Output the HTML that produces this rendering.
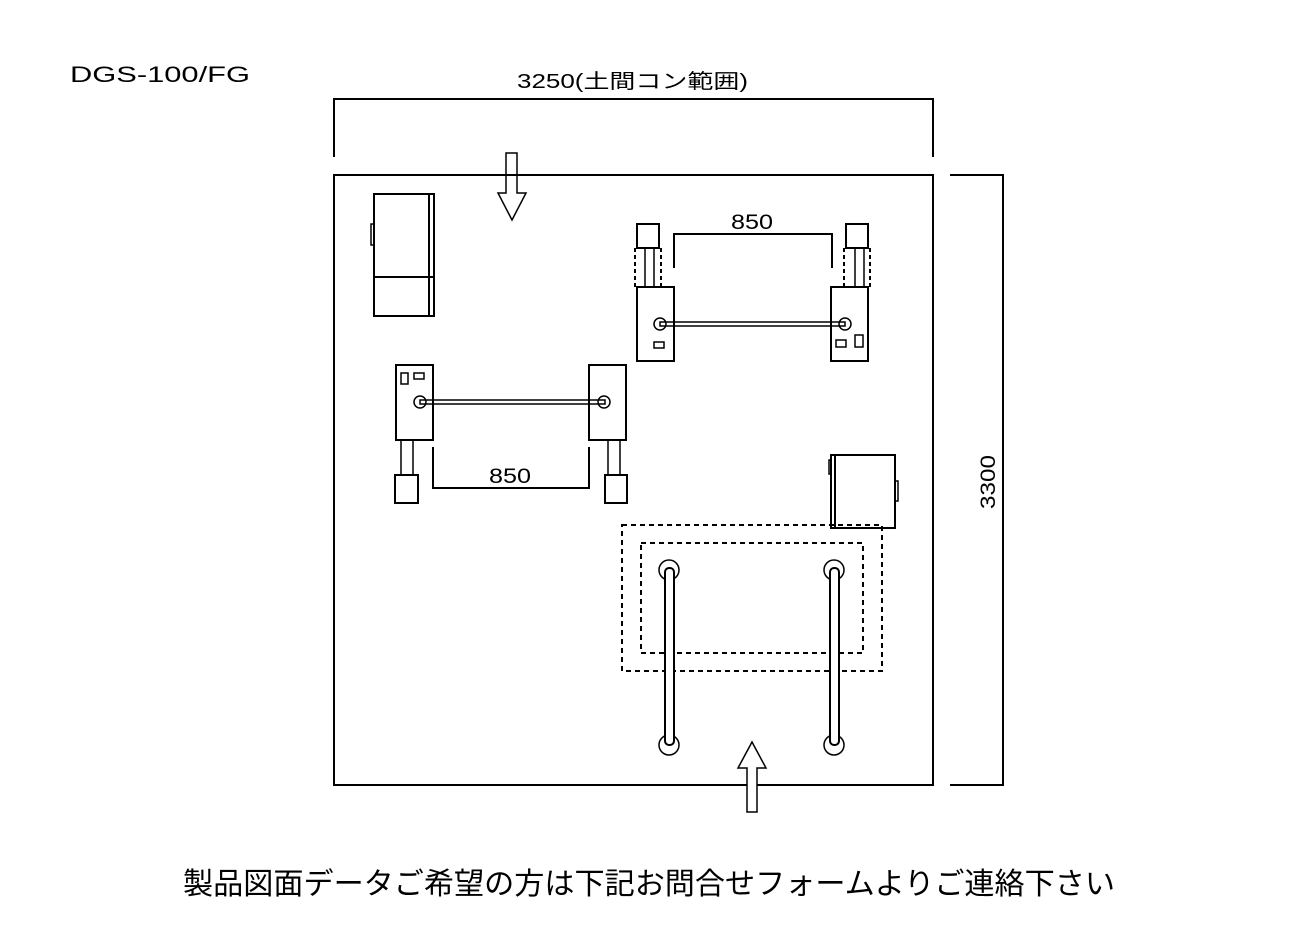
<!DOCTYPE html>
<html><head><meta charset="utf-8"><style>
html,body{margin:0;padding:0;background:#fff;width:1296px;height:936px;overflow:hidden}
svg{display:block}
text{font-family:"Liberation Sans","Noto Sans CJK JP",sans-serif;fill:#000}
</style></head><body>
<svg width="1296" height="936" viewBox="0 0 1296 936" xmlns="http://www.w3.org/2000/svg">
<g fill="none" stroke="#000" stroke-width="2">
<text x="70" y="82" font-size="22" stroke="none" textLength="180" lengthAdjust="spacingAndGlyphs">DGS-100/FG</text>
<text x="517" y="88" font-size="20" stroke="none" textLength="231" lengthAdjust="spacingAndGlyphs">3250(土間コン範囲)</text>
<polyline points="334,157 334,99 933,99 933,157"/>
<rect x="334" y="175" width="599" height="610"/>
<polyline points="950,175 1003,175 1003,785 950,785"/>
<text x="0" y="0" font-size="21" stroke="none" textLength="54" lengthAdjust="spacingAndGlyphs" transform="translate(995,509) rotate(-90)">3300</text>
<polygon points="506,153 517,153 517,193 526,193 512,220 498,193 506,193" stroke-width="1.5"/>
<rect x="374" y="194" width="60" height="122"/>
<line x1="374" y1="277" x2="434" y2="277"/>
<line x1="429" y1="194" x2="429" y2="316"/>
<rect x="371" y="224" width="3" height="21" stroke-width="1.5"/>
<rect x="396" y="365" width="37" height="75"/>
<rect x="589" y="365" width="37" height="75"/>
<rect x="401" y="373" width="7" height="11" stroke-width="1.5"/>
<rect x="414" y="373" width="10" height="6" stroke-width="1.5"/>
<rect x="420" y="400" width="185" height="4" stroke-width="1.5"/>
<circle cx="420" cy="402" r="6" stroke-width="1.5"/><circle cx="604" cy="402" r="6" stroke-width="1.5"/>
<rect x="401" y="440" width="12" height="35" stroke-width="1.5"/>
<rect x="395" y="475" width="23" height="28"/>
<rect x="608" y="440" width="12" height="35" stroke-width="1.5"/>
<rect x="605" y="475" width="22" height="28"/>
<polyline points="433,447 433,488 589,488 589,447"/>
<text x="489" y="483" font-size="21" stroke="none" textLength="42" lengthAdjust="spacingAndGlyphs">850</text>
<rect x="637" y="287" width="37" height="74"/>
<rect x="831" y="287" width="37" height="74"/>
<rect x="654" y="342" width="10" height="6" stroke-width="1.5"/>
<rect x="836" y="340" width="10" height="7" stroke-width="1.5"/>
<rect x="855" y="335" width="8" height="12" stroke-width="1.5"/>
<rect x="660" y="322" width="185" height="4" stroke-width="1.5"/>
<circle cx="660" cy="324" r="6" stroke-width="1.5"/><circle cx="845" cy="324" r="6" stroke-width="1.5"/>
<rect x="637" y="224" width="22" height="24"/>
<rect x="645" y="248" width="9" height="39" stroke-width="1.5"/>
<line x1="635" y1="248" x2="635" y2="287" stroke-dasharray="4,3"/>
<line x1="661" y1="248" x2="661" y2="287" stroke-dasharray="4,3"/>
<rect x="846" y="224" width="22" height="24"/>
<rect x="855" y="248" width="9" height="39" stroke-width="1.5"/>
<line x1="844" y1="248" x2="844" y2="287" stroke-dasharray="4,3"/>
<line x1="870" y1="248" x2="870" y2="287" stroke-dasharray="4,3"/>
<polyline points="674,268 674,234 832,234 832,268"/>
<text x="731" y="229" font-size="21" stroke="none" textLength="42" lengthAdjust="spacingAndGlyphs">850</text>
<rect x="831" y="455" width="64" height="73"/>
<line x1="835" y1="455" x2="835" y2="528"/>
<rect x="895" y="481" width="3" height="20" stroke-width="1.5"/>
<rect x="829" y="460" width="2" height="14" stroke-width="1.5"/>
<rect x="622" y="525" width="260" height="146" stroke-dasharray="5,4"/>
<rect x="641" y="543" width="222" height="110" stroke-dasharray="5,4"/>
<circle cx="669" cy="570" r="10" stroke-width="1.5"/><circle cx="669" cy="745" r="10" stroke-width="1.5"/>
<rect x="665" y="568" width="9" height="177" rx="4" fill="#fff"/>
<circle cx="834" cy="570" r="10" stroke-width="1.5"/><circle cx="834" cy="745" r="10" stroke-width="1.5"/>
<rect x="830" y="568" width="9" height="177" rx="4" fill="#fff"/>
<polygon points="747,812 757,812 757,768 766,768 752,742 738,768 747,768" fill="#fff" stroke-width="1.5"/>
<text x="183" y="894" font-size="30" stroke="none" textLength="932" lengthAdjust="spacingAndGlyphs">製品図面データご希望の方は下記お問合せフォームよりご連絡下さい</text>
</g>
</svg>
</body></html>
